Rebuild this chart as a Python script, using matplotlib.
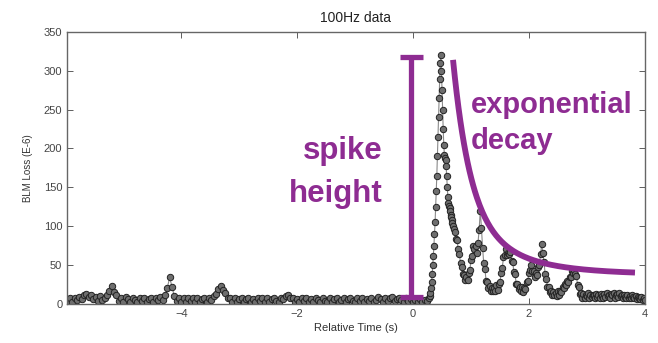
#!/usr/bin/env python
# coding: utf-8

# BLM loss spike at 100Hz, annotated with spike height and decay

import numpy as np
import matplotlib.pyplot as plt

plt.rcParams['font.family'] = ['Liberation Sans', 'DejaVu Sans']

# --------------------- data ---------------------
# baseline before the spike, every 0.04 s
t_base = np.round(np.arange(-5.96, 0.2801, 0.04), 2)
loss_base = [4, 8, 3, 7, 5, 9, 6, 11, 13, 9,
             11, 6, 9, 4, 10, 5, 8, 11, 16, 23,
             15, 11, 4, 8, 3, 9, 6, 3, 8, 5,
             3, 7, 4, 8, 3, 6, 8, 3, 7, 5,
             9, 5, 11, 21, 34, 22, 10, 4, 8, 3,
             7, 3, 8, 4, 7, 3, 8, 2, 6, 8,
             3, 7, 5, 10, 13, 19, 23, 18, 14, 7,
             8, 3, 7, 2, 6, 8, 3, 6, 8, 2,
             6, 3, 7, 4, 8, 2, 7, 3, 6, 8,
             4, 3, 8, 6, 10, 11, 7, 8, 3, 6,
             3, 7, 4, 8, 2, 6, 3, 7, 5, 2,
             8, 4, 3, 7, 2, 6, 8, 3, 5, 7,
             3, 6, 8, 4, 2, 7, 4, 8, 3, 6,
             4, 8, 3, 5, 9, 6, 3, 8, 4, 7,
             9, 4, 6, 8, 5, 3, 8, 4, 6, 3,
             5, 3, 6, 2, 5, 4, 8]

# the spike itself, every 0.01 s
t_spike = np.round(np.arange(0.29, 0.7001, 0.01), 2)
loss_spike = [10, 14, 20, 28, 38, 50, 62, 75, 90, 105,
              125, 145, 165, 190, 215, 240, 265, 290, 310, 320,
              300, 275, 250, 225, 205, 192, 188, 185, 178, 165,
              150, 138, 130, 126, 124, 120, 115, 112, 108, 104,
              100, 96]

# decay tail, every 0.02 s
t_tail = np.round(np.arange(0.72, 4.0001, 0.02), 2)
loss_tail = [92, 84, 82, 70, 64, 52, 48, 38, 37, 31,
             34, 31, 40, 43, 57, 62, 75, 70, 74, 65,
             78, 95, 120, 98, 72, 52, 45, 30, 28, 20,
             23, 17, 20, 17, 21, 16, 24, 18, 26, 28,
             40, 46, 60, 63, 70, 63, 65, 64, 67, 55,
             54, 41, 38, 26, 26, 19, 22, 16, 22, 15,
             21, 19, 28, 30, 40, 43, 50, 42, 42, 35,
             40, 37, 47, 50, 64, 77, 66, 54, 38, 32,
             22, 22, 15, 17, 12, 15, 12, 14, 10, 16,
             11, 17, 15, 22, 20, 26, 24, 30, 28, 35,
             34, 42, 40, 44, 38, 36, 24, 22, 13, 14,
             8, 13, 7, 12, 10, 14, 8, 12, 9, 11,
             12, 7, 13, 9, 11, 8, 13, 10, 8, 13,
             9, 14, 10, 12, 7, 13, 11, 14, 8, 12,
             13, 9, 14, 10, 12, 7, 11, 9, 7, 12,
             8, 10, 7, 11, 9, 7, 10, 6, 9, 8,
             6, 9, 5, 8, 5]

t = np.concatenate([t_base, t_spike, t_tail])
loss = np.concatenate([loss_base, loss_spike, loss_tail])

purple = '#8E2C92'

# --------------------- plot ---------------------
fig = plt.figure(figsize=(6.58, 3.43), dpi=100)
ax = fig.add_axes([0.102, 0.114, 0.878, 0.793])

ax.plot(t, loss, color='#8a8a8a', linewidth=0.8,
        marker='o', markersize=4.6, markerfacecolor='#6e6e6e',
        markeredgecolor='#222222', markeredgewidth=0.7)

# spike height bar
x_bar = -0.03
lw = 3.8
ax.plot([x_bar, x_bar], [9, 318], color=purple, linewidth=lw, solid_capstyle='butt')
ax.plot([x_bar - 0.2, x_bar + 0.2], [318, 318], color=purple, linewidth=lw, solid_capstyle='butt')
ax.plot([x_bar - 0.2, x_bar + 0.2], [9, 9], color=purple, linewidth=lw, solid_capstyle='butt')

# exponential decay guide
tc = np.linspace(0.69, 3.83, 200)
yc = 38 + 200 * np.exp(-(tc - 0.69) / 0.3) + 76 * np.exp(-(tc - 0.69) / 0.9)
ax.plot(tc, yc, color=purple, linewidth=4.2, solid_capstyle='butt')

# labels on the plot
ax.text(-0.53, 197, 'spike', color=purple, fontsize=22.5, fontweight='bold',
        ha='right', va='center')
ax.text(-0.53, 141, 'height', color=purple, fontsize=22.5, fontweight='bold',
        ha='right', va='center')
ax.text(1.0, 256, 'exponential', color=purple, fontsize=21, fontweight='bold',
        ha='left', va='center')
ax.text(1.0, 210, 'decay', color=purple, fontsize=21, fontweight='bold',
        ha='left', va='center')

# axes
ax.set_xlim(-5.97, 4)
ax.set_ylim(0, 350)
ax.set_xticks([-4, -2, 0, 2, 4])
ax.set_xticklabels(['\u22124', '\u22122', '0', '2', '4'])
ax.set_yticks(range(0, 351, 50))
ax.tick_params(direction='in', top=True, right=True, labelsize=8,
               colors='#444444', length=4, width=0.6)
for s in ax.spines.values():
    s.set_color('#666666')
    s.set_linewidth(1.0)

ax.set_xlabel('Relative Time (s)', fontsize=8, color='#333333', labelpad=3)
ax.set_ylabel('BLM Loss (E-6)', fontsize=7, color='#333333', labelpad=8)
ax.set_title('100Hz data', fontsize=10, color='#222222', pad=7)

plt.savefig('out.png', dpi=100)
